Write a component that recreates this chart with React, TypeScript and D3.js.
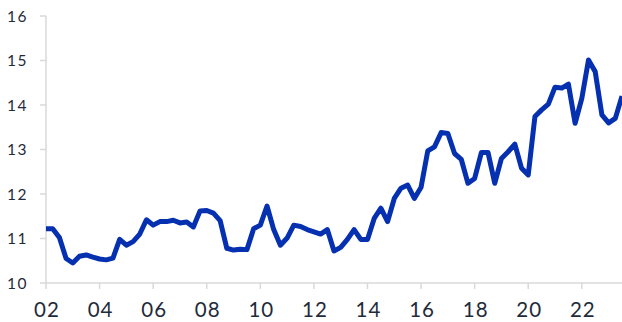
import React from "react";
import * as d3 from "d3";

const startYear = 2002;
const values: number[] = [
  11.22, 11.22, 11.02, 10.55, 10.45, 10.6, 10.63, 10.58,
  10.54, 10.52, 10.56, 10.98, 10.85, 10.93, 11.1, 11.42,
  11.3, 11.38, 11.38, 11.41, 11.35, 11.37, 11.26, 11.62,
  11.63, 11.57, 11.4, 10.78, 10.74, 10.76, 10.75, 11.22,
  11.3, 11.73, 11.2, 10.85, 11.01, 11.3, 11.27, 11.2,
  11.15, 11.1, 11.2, 10.72, 10.8, 10.98, 11.2, 10.98,
  10.98, 11.45, 11.68, 11.38, 11.9, 12.13, 12.2, 11.9,
  12.15, 12.97, 13.06, 13.38, 13.36, 12.91, 12.78, 12.24,
  12.35, 12.93, 12.93, 12.24, 12.8, 12.95, 13.12, 12.58,
  12.43, 13.74, 13.89, 14.02, 14.4, 14.38, 14.47, 13.59,
  14.15, 15.01, 14.75, 13.78, 13.6, 13.7, 14.2,
];
const yTicks = [10, 11, 12, 13, 14, 15, 16];
const xTicks = [2002, 2004, 2006, 2008, 2010, 2012, 2014, 2016, 2018, 2020, 2022];

const W = 622, H = 322;
const left = 46, right = 622, top = 16, bottom = 283;

export default function App() {
  const x = d3.scaleLinear().domain([2002, 2023.5]).range([left, right]);
  const y = d3.scaleLinear().domain([10, 16]).range([bottom, top]);
  const data = values.map((v, i) => ({ t: startYear + i / 4, v }));
  const line = d3.line<{ t: number; v: number }>().x(d => x(d.t)).y(d => y(d.v));
  const axisColor = "#d9d9d9";
  const textColor = "#1f2b3b";
  const font = "Lato, 'Open Sans', sans-serif";
  return (
    <svg width={W} height={H} style={{ position: "absolute", left: 0, top: 0 }}>
      <line x1={left} x2={left} y1={top} y2={bottom} stroke={axisColor} strokeWidth={1.5} />
      <line x1={left} x2={right} y1={bottom} y2={bottom} stroke={axisColor} strokeWidth={1.5} />
      {yTicks.map(t => (
        <g key={t}>
          <line x1={left - 6} x2={left} y1={y(t)} y2={y(t)} stroke={axisColor} strokeWidth={1.5} />
          <text x={28} y={y(t)} dy="0.36em" textAnchor="end" fontFamily={font} fontSize={15.5} fill={textColor} letterSpacing={1.5}>
            {String(t)}
          </text>
        </g>
      ))}
      {xTicks.map(t => (
        <g key={t}>
          <line x1={x(t)} x2={x(t)} y1={bottom} y2={bottom + 6} stroke={axisColor} strokeWidth={1.5} />
          <text x={x(t) + 1} y={316.5} textAnchor="middle" fontFamily={font} fontSize={20.5} fill={textColor} letterSpacing={1}>
            {String(t % 100).padStart(2, "0")}
          </text>
        </g>
      ))}
      <path d={line(data) || ""} fill="none" stroke="#0530b0" strokeWidth={5} strokeLinejoin="round" strokeLinecap="butt" />
    </svg>
  );
}
